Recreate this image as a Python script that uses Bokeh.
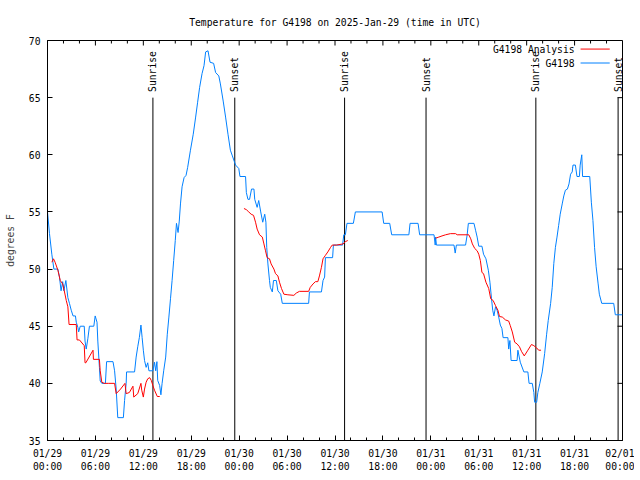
import math
from bokeh.plotting import figure
from bokeh.models import Range1d, FixedTicker, Label, ColumnDataSource
from bokeh.core.properties import value
from bokeh.embed import file_html
from bokeh.resources import INLINE

obs_hours = [0.0, 0.25, 0.54, 0.8, 1.3, 1.5, 1.7, 1.9, 2.05, 2.3, 2.55, 2.75, 2.97, 3.2, 3.5,
             3.6, 3.8, 3.9, 4.1, 4.6, 4.7, 4.85, 5.05, 5.25, 5.8, 5.97, 6.2, 6.3, 6.5, 6.6,
             6.8, 7.25, 7.4, 8.2, 8.4, 8.6, 8.8, 9.5, 9.65, 9.85, 9.9, 10.9, 11.1, 11.3, 11.5,
             11.7, 11.85, 12.0, 12.15, 12.35, 12.55, 12.7, 13.2, 13.4, 13.55, 13.7, 13.8, 14.05,
             14.2, 14.35, 14.55, 14.8, 15.0, 15.2, 15.4, 15.6, 15.8, 16.0, 16.15, 16.35, 16.5,
             16.65, 16.85, 17.1, 17.35, 17.55, 17.9, 18.25, 18.55, 18.8, 19.05, 19.35, 19.6,
             19.8, 20.1, 20.35, 20.8, 21.05, 21.45, 21.65, 22.0, 22.3, 22.6, 22.9, 23.15, 23.55,
             23.95, 24.1, 24.8, 24.9, 25.1, 25.3, 25.55, 25.85, 25.95, 26.25, 26.45, 26.7, 26.95,
             27.2, 27.35, 27.45, 27.6, 27.8, 27.9, 28.15, 28.3, 28.65, 28.85, 29.2, 29.4, 32.7,
             32.8, 34.3, 34.5, 34.7, 34.8, 35.7, 35.8, 36.95, 37.1, 37.3, 37.5, 38.3, 38.55,
             41.9, 42.1, 42.85, 43.1, 45.25, 45.4, 46.4, 46.6, 48.4, 48.55, 48.6, 48.7, 50.9,
             51.05, 51.2, 52.35, 52.55, 52.7, 53.4, 53.6, 53.8, 54.0, 54.4, 54.6, 54.9, 55.2,
             55.4, 55.6, 55.75, 55.9, 56.1, 56.3, 56.5, 56.7, 56.9, 57.05, 57.65, 57.75, 57.9,
             58.05, 58.8, 58.9, 59.2, 59.65, 60.15, 60.3, 60.7, 60.9, 61.0, 61.25, 61.4, 61.65,
             61.95, 62.25, 62.5, 62.7, 63.0, 63.2, 63.4, 63.6, 63.8, 64.0, 64.2, 64.45, 64.65,
             64.85, 65.1, 65.3, 65.5, 65.7, 65.8, 66.1, 66.3, 66.6, 66.7, 66.9, 67.0, 67.9,
             68.1, 68.3, 68.5, 68.7, 68.95, 69.1, 69.4, 70.9, 71.1, 72.0]
obs_temps = [55.0, 53.1, 51.3, 50.0, 50.0, 49.3, 48.1, 48.9, 48.1, 49.0, 47.5, 47.0, 46.4, 45.9, 45.9,
             45.35, 44.9, 44.5, 45.0, 45.0, 43.7, 43.0, 43.9, 45.0, 45.0, 45.9, 45.35, 43.7, 41.4, 40.2,
             40.0, 40.0, 41.9, 41.9, 41.1, 39.5, 37.0, 37.0, 38.5, 40.0, 41.0, 41.0, 42.3, 43.2, 44.0,
             45.1, 44.0, 42.9, 42.0, 41.4, 41.8, 41.1, 41.1, 41.85, 41.1, 41.9, 40.25, 39.8,
             39.0, 40.0, 41.1, 42.3, 44.3, 45.8, 47.4, 49.0, 50.75, 52.5, 54.0, 53.2, 54.2,
             55.7, 57.2, 58.0, 58.2, 58.9, 60.4, 61.8, 63.3, 64.6, 65.9, 67.1, 67.8,
             69.0, 69.1, 68.1, 68.0, 67.2, 66.9, 66.2, 64.7, 63.3, 61.8, 60.4, 59.9, 59.1,
             58.8, 58.1, 58.1, 56.7, 56.1, 56.1, 57.0, 57.0, 56.1, 55.4, 56.0, 55.0, 54.1,
             54.8, 54.1, 51.9, 50.45, 49.0, 48.4, 48.0, 49.0, 49.0, 48.1, 47.8, 47.0, 47.0,
             48.0, 48.0, 49.0, 49.3, 51.0, 51.0, 52.1, 52.1, 53.0, 53.0, 54.0, 54.0, 55.0,
             55.0, 54.0, 54.0, 53.0, 53.0, 54.0, 54.0, 53.0, 53.0, 52.1, 52.8, 52.1, 52.1,
             51.4, 52.1, 52.1, 53.0, 54.0, 54.0, 53.4, 52.8, 52.0, 52.0, 51.3, 50.9, 49.9,
             48.85, 47.4, 46.4, 45.9, 46.7, 46.4, 45.8, 45.1, 44.8, 44.0, 44.0, 43.0, 43.75,
             42.0, 42.0, 42.9, 41.85, 41.0, 41.0, 40.0, 40.0, 39.2, 38.35, 38.35, 39.2, 40.0,
             41.0, 42.6, 44.3, 45.5, 47.0, 48.4, 50.5, 51.9, 52.8, 53.8, 54.8, 55.7, 56.4,
             56.9, 57.0, 57.45, 58.3, 58.5, 59.1, 59.1, 58.1, 58.1, 59.1, 60.0, 58.1, 58.1,
             55.85, 54.25, 51.9, 50.2, 48.7, 47.8, 47.0, 47.0, 46.0, 46.0]

ana1_hours = [0.55, 0.75, 0.95, 1.3, 1.6, 1.9, 2.1, 2.35, 2.55, 2.7, 3.6, 3.7, 4.0, 4.6, 4.7, 4.8,
              5.7, 5.75, 6.5, 6.6, 6.8, 7.1, 7.6, 8.4, 8.6, 9.15, 9.7, 9.85, 10.25, 10.7, 10.8,
              11.3, 11.7, 11.8, 12.0, 12.15, 12.35, 12.55, 12.8, 13.0, 13.2, 13.4, 13.75, 14.05]
ana1_temps = [50.6, 50.9, 50.6, 49.9, 49.0, 48.7, 48.1, 47.25, 46.7, 45.15, 45.15, 43.8, 43.8, 43.3, 41.8, 41.8,
              42.9, 42.1, 42.1, 41.1, 40.1, 40.0, 40.0, 40.0, 39.1, 39.5, 40.0, 39.1, 39.2, 39.75, 38.8,
              39.1, 40.0, 39.4, 38.8, 39.5, 40.1, 40.4, 40.5, 40.25, 39.8, 39.4, 38.85, 38.85]

ana2_hours = [24.6, 24.9, 25.2, 25.5, 25.8, 26.05, 26.25, 26.55, 26.9, 27.1, 27.3, 27.5, 27.8, 28.0,
              28.35, 28.55, 28.85, 29.05, 29.3, 29.6, 30.1, 30.85, 31.15, 31.55, 32.7, 32.9, 33.25,
              33.55, 33.85, 34.05, 34.3, 34.5, 34.8, 35.1, 35.45, 35.65, 36.2, 37.0, 37.3, 37.6]
ana2_temps = [55.3, 55.2, 55.0, 54.8, 54.7, 54.1, 53.5, 53.0, 52.8, 52.2, 51.6, 51.0, 50.9, 50.45,
              50.0, 49.6, 49.4, 48.85, 48.3, 47.8, 47.75, 47.7, 47.9, 48.05, 48.05, 48.4, 48.7,
              48.9, 48.9, 49.4, 50.15, 50.9, 51.2, 51.5, 51.9, 52.1, 52.1, 52.2, 52.4, 52.5]

ana3_hours = [48.6, 49.0, 49.4, 49.85, 50.45, 51.1, 51.3, 52.75, 53.0, 53.2, 53.5, 53.8, 54.0, 54.2,
              54.4, 54.6, 54.9, 55.25, 55.5, 55.8, 56.1, 56.4, 56.6, 56.95, 57.35, 57.75, 57.95,
              58.2, 58.5, 58.8, 59.1, 59.35, 59.7, 60.15, 60.6, 60.9, 61.25, 61.5, 61.8]
ana3_temps = [52.7, 52.8, 52.9, 53.0, 53.1, 53.1, 53.0, 53.0, 52.65, 52.2, 51.8, 51.6, 51.3, 50.75,
              49.7, 49.6, 48.85, 48.3, 47.4, 47.25, 46.8, 46.4, 45.85, 45.8, 45.55, 45.45, 45.05,
              44.5, 43.6, 43.45, 43.2, 42.8, 42.4, 42.9, 43.4, 43.3, 43.1, 42.9, 42.9]

sunrise_hours = [13.2, 37.2, 61.15]
sunset_hours = [23.45, 47.4, 71.45]
event_line_top = 65.0

x_tick_hours = [0, 6, 12, 18, 24, 30, 36, 42, 48, 54, 60, 66, 72]
x_tick_labels = ["01/29\n00:00", "01/29\n06:00", "01/29\n12:00", "01/29\n18:00",
                 "01/30\n00:00", "01/30\n06:00", "01/30\n12:00", "01/30\n18:00",
                 "01/31\n00:00", "01/31\n06:00", "01/31\n12:00", "01/31\n18:00",
                 "02/01\n00:00"]
x_minor_hours = list(range(0, 73, 2))
y_ticks = [35, 40, 45, 50, 55, 60, 65, 70]

series_names = ["G4198 Analysis", "G4198"]
series_colors = ["#ff0000", "#0080ff"]

TITLE = "Temperature for G4198 on 2025-Jan-29 (time in UTC)"
FONT = "DejaVu Sans Mono"
FS = "9.7px"

X0, X1, Y0, Y1 = 0, 72, 35, 70
FW, FH = 575, 400
BL, BT, BB = 47, 40, 35
W = BL + FW + 12
H = BT + FH + BB

p = figure(width=W, height=H, output_backend="svg", toolbar_location=None,
           x_range=Range1d(X0, X1), y_range=Range1d(Y0, Y1),
           min_border_left=BL, min_border_right=W - BL - FW, min_border_top=BT, min_border_bottom=BB,
           title=TITLE)
p.title.align = "center"
p.title.text_font = FONT
p.title.text_font_size = FS
p.title.text_font_style = "normal"
p.title.text_color = "black"
p.title.standoff = 26
p.grid.visible = False
p.outline_line_color = "black"
p.background_fill_color = "white"
p.border_fill_color = "white"

xt = FixedTicker(ticks=x_tick_hours, minor_ticks=x_minor_hours)
yt = FixedTicker(ticks=y_ticks, minor_ticks=[])

for ax in (p.xaxis[0], p.yaxis[0]):
    ax.axis_line_color = "black"
    ax.major_tick_line_color = "black"
    ax.minor_tick_line_color = "black"
    ax.major_tick_in = 5
    ax.major_tick_out = 0
    ax.minor_tick_in = 3
    ax.minor_tick_out = 0
    ax.major_label_text_font = FONT
    ax.major_label_text_font_size = FS
    ax.major_label_text_color = "black"
    ax.major_label_standoff = 7

p.xaxis.ticker = xt
p.xaxis.major_label_overrides = {h: lab for h, lab in zip(x_tick_hours, x_tick_labels)}
p.yaxis.ticker = yt
p.yaxis.axis_label = "degrees F"
p.yaxis.axis_label_text_font = FONT
p.yaxis.axis_label_text_font_size = FS
p.yaxis.axis_label_text_font_style = "normal"
p.yaxis.axis_label_standoff = 10

# mirrored ticks on top and right edges (gnuplot "mirror")
dy_major = 5 * (Y1 - Y0) / FH
dy_minor = 3 * (Y1 - Y0) / FH
dx_major = 5 * (X1 - X0) / FW
top_x = x_minor_hours
top_len = [dy_major if h in x_tick_hours else dy_minor for h in top_x]
p.segment(x0=top_x, y0=[Y1] * len(top_x), x1=top_x, y1=[Y1 - d for d in top_len],
          line_color="black", line_width=1)
p.segment(x0=[X1] * len(y_ticks), y0=y_ticks, x1=[X1 - dx_major] * len(y_ticks), y1=y_ticks,
          line_color="black", line_width=1)

ev_x = sunrise_hours + sunset_hours
ev_txt = ["Sunrise"] * len(sunrise_hours) + ["Sunset"] * len(sunset_hours)
ev_src = ColumnDataSource(dict(x=ev_x, y0=[Y0] * len(ev_x), y1=[event_line_top] * len(ev_x),
                               yt=[event_line_top + 0.5] * len(ev_x), txt=ev_txt))
p.segment(x0="x", y0="y0", x1="x", y1="y1", source=ev_src, line_color="black", line_width=1)
p.text(x="x", y="yt", text="txt", source=ev_src, angle=math.pi / 2,
       text_align="left", text_baseline="middle", text_font=value(FONT),
       text_font_size=FS, text_color="black")

p.line(obs_hours, obs_temps, line_color=series_colors[1], line_width=1)
for hh, tt in ((ana1_hours, ana1_temps), (ana2_hours, ana2_temps), (ana3_hours, ana3_temps)):
    p.line(hh, tt, line_color=series_colors[0], line_width=1)

LEG_TEXT_X = 66.0
LEG_X0, LEG_X1 = 66.75, 70.4
LEG_Y = [69.25, 68.03]
for name, col, ly in zip(series_names, series_colors, LEG_Y):
    p.add_layout(Label(x=LEG_TEXT_X, y=ly, text=name, text_align="right", text_baseline="middle",
                       text_font=FONT, text_font_size=FS, text_color="black"))
    p.line([LEG_X0, LEG_X1], [ly, ly], line_color=col, line_width=1)

open("out.html", "w").write(file_html(p, INLINE))
